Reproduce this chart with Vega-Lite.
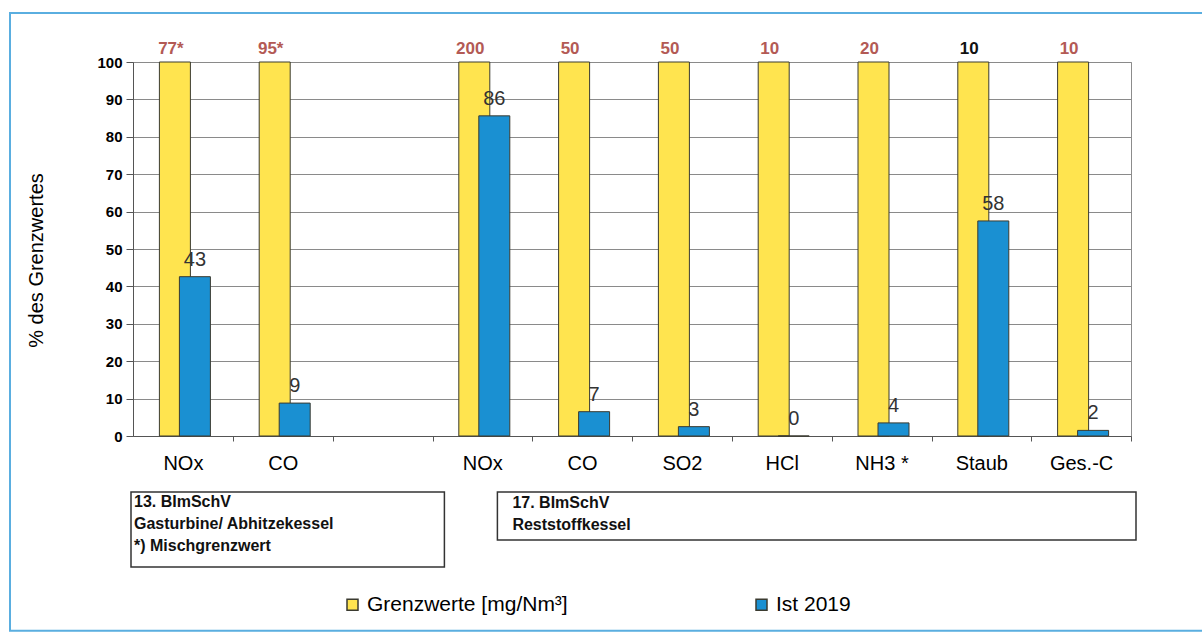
{
  "$schema": "https://vega.github.io/schema/vega-lite/v6.json",
  "width": 998,
  "height": 374,
  "autosize": {"type": "none"},
  "padding": {"left": 133, "top": 62, "right": 71, "bottom": 197},
  "background": "white",
  "config": {
    "font": "Liberation Sans",
    "view": {"stroke": "#8c8c8c", "strokeWidth": 1}
  },
  "data": {
    "values": [
      {"kategorie": "NOx", "grenzwert": "77*", "prozent_grenzwert": 100, "ist_2019": 42.6},
      {"kategorie": "CO", "grenzwert": "95*", "prozent_grenzwert": 100, "ist_2019": 8.8},
      {"kategorie": "NOx ", "grenzwert": "200", "prozent_grenzwert": 100, "ist_2019": 85.6},
      {"kategorie": "CO ", "grenzwert": "50", "prozent_grenzwert": 100, "ist_2019": 6.5},
      {"kategorie": "SO2", "grenzwert": "50", "prozent_grenzwert": 100, "ist_2019": 2.5},
      {"kategorie": "HCl", "grenzwert": "10", "prozent_grenzwert": 100, "ist_2019": 0},
      {"kategorie": "NH3 *", "grenzwert": "20", "prozent_grenzwert": 100, "ist_2019": 3.5},
      {"kategorie": "Staub", "grenzwert": "10", "prozent_grenzwert": 100, "ist_2019": 57.5},
      {"kategorie": "Ges.-C", "grenzwert": "10", "prozent_grenzwert": 100, "ist_2019": 1.5}
    ]
  },
  "encoding": {
    "x": {
      "field": "kategorie",
      "type": "nominal",
      "scale": {
        "domain": ["NOx", "CO", " ", "NOx ", "CO ", "SO2", "HCl", "NH3 *", "Staub", "Ges.-C"],
        "paddingInner": 0,
        "paddingOuter": 0
      },
      "axis": {
        "title": null,
        "labelAngle": 0,
        "labelFontSize": 20,
        "labelColor": "black",
        "labelPadding": 12,
        "labelOffset": -50,
        "tickSize": 5,
        "tickOffset": 50,
        "domainColor": "#555",
        "tickColor": "#555",
        "grid": false
      }
    }
  },
  "layer": [
    {
      "mark": {"type": "bar", "width": 31, "xOffset": -8, "stroke": "#3b3b30", "strokeWidth": 1},
      "encoding": {
        "y": {
          "field": "prozent_grenzwert",
          "type": "quantitative",
          "scale": {"domain": [0, 100], "nice": false},
          "axis": {
            "title": "% des Grenzwertes",
            "titleFontSize": 20,
            "titleFontWeight": "normal",
            "titleColor": "black",
            "titlePadding": 50,
            "titleY": 198,
            "tickCount": 10,
            "labelFontSize": 15,
            "labelFontWeight": "bold",
            "labelColor": "black",
            "tickSize": 7,
            "labelPadding": 4,
            "gridColor": "#8a8a8a",
            "domainColor": "#555",
            "tickColor": "#555"
          }
        },
        "color": {
          "datum": "Grenzwerte [mg/Nm³]",
          "scale": {"domain": ["Grenzwerte [mg/Nm³]", "Ist 2019"], "range": ["#ffe44f", "#1a90d2"]},
          "legend": {
            "title": null,
            "orient": "none",
            "legendX": 209,
            "legendY": 532,
            "direction": "horizontal",
            "columns": 2,
            "columnPadding": 183,
            "padding": 0,
            "labelFontSize": 21,
            "labelLimit": 400,
            "labelColor": "black",
            "labelOffset": 4,
            "symbolType": "square",
            "symbolSize": 121,
            "symbolStrokeColor": "#222",
            "symbolStrokeWidth": 1.5
          }
        }
      }
    },
    {
      "mark": {"type": "bar", "width": 31, "xOffset": 12, "stroke": "#3b3b30", "strokeWidth": 1},
      "encoding": {
        "y": {"field": "ist_2019", "type": "quantitative"},
        "color": {"datum": "Ist 2019"}
      }
    },
    {
      "mark": {"type": "text", "dx": -12, "dy": -8, "baseline": "alphabetic", "fontSize": 17, "fontWeight": "bold"},
      "encoding": {
        "y": {"datum": 100, "type": "quantitative"},
        "text": {"field": "grenzwert"},
        "color": {"condition": {"test": "datum.kategorie == 'Staub'", "value": "#111111"}, "value": "#b35a55"}
      }
    },
    {
      "mark": {"type": "text", "dx": 12, "dy": -11, "baseline": "alphabetic", "fontSize": 20, "color": "#333333"},
      "encoding": {
        "y": {"field": "ist_2019", "type": "quantitative"},
        "text": {"field": "ist_2019", "type": "quantitative", "format": ".0f"}
      }
    },
    {
      "data": {"values": [{"hinweis": "Rahmen"}]},
      "mark": {"type": "rect", "fill": "transparent", "stroke": "#5aaee0", "strokeWidth": 2, "xOffset": -123, "x2Offset": 80},
      "encoding": {
        "x": {"datum": "NOx", "bandPosition": 0},
        "x2": {"datum": "Ges.-C", "bandPosition": 1},
        "y": {"datum": 113.1, "type": "quantitative"},
        "y2": {"datum": -52.1}
      }
    },
    {
      "data": {"values": [{"hinweis": "13. BImSchV\nGasturbine/ Abhitzekessel\n*) Mischgrenzwert"}]},
      "layer": [
        {
          "mark": {"type": "rect", "fill": "white", "stroke": "#333", "strokeWidth": 1.5, "xOffset": -2, "x2Offset": 12},
          "encoding": {
            "x": {"datum": "NOx", "bandPosition": 0},
            "x2": {"datum": " ", "bandPosition": 1},
            "y": {"datum": -15, "type": "quantitative"},
            "y2": {"datum": -35}
          }
        },
        {
          "mark": {"type": "text", "align": "left", "baseline": "middle", "lineBreak": "\n", "lineHeight": 22, "fontSize": 16, "fontWeight": "bold", "color": "#111", "dx": 1},
          "encoding": {
            "x": {"datum": "NOx", "bandPosition": 0},
            "y": {"datum": -17.6, "type": "quantitative"},
            "text": {"field": "hinweis"}
          }
        }
      ]
    },
    {
      "data": {"values": [{"hinweis": "17. BImSchV\nReststoffkessel"}]},
      "layer": [
        {
          "mark": {"type": "rect", "fill": "white", "stroke": "#333", "strokeWidth": 1.5, "xOffset": 65, "x2Offset": 5},
          "encoding": {
            "x": {"datum": "NOx ", "bandPosition": 0},
            "x2": {"datum": "Ges.-C", "bandPosition": 1},
            "y": {"datum": -15, "type": "quantitative"},
            "y2": {"datum": -27.8}
          }
        },
        {
          "mark": {"type": "text", "align": "left", "baseline": "middle", "lineBreak": "\n", "lineHeight": 22, "fontSize": 16, "fontWeight": "bold", "color": "#111", "dx": 80},
          "encoding": {
            "x": {"datum": "NOx ", "bandPosition": 0},
            "y": {"datum": -17.9, "type": "quantitative"},
            "text": {"field": "hinweis"}
          }
        }
      ]
    }
  ]
}
